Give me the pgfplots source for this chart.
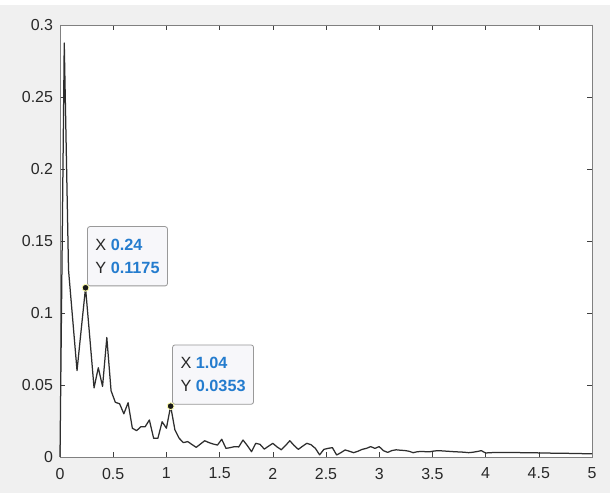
\documentclass[border=0pt]{standalone}
\usepackage{fontspec}
\setmainfont{Liberation Sans}
\usepackage{pgfplots}
\pgfplotsset{compat=1.18}
\usepackage{pgfplotstable}
\definecolor{figbg}{RGB}{240,240,240}
\definecolor{tipbg}{RGB}{247,247,250}
\definecolor{tipblue}{RGB}{36,124,206}
\definecolor{tipyellow}{RGB}{255,255,170}
\definecolor{txt}{RGB}{40,40,40}
\tikzset{tipbox/.style={anchor=south west, draw=black!40, fill=tipbg, rounded corners=2.5bp,
    line width=0.8bp, align=left, font=\fontsize{16.3}{22.7}\selectfont, text=txt,
    inner xsep=8bp, inner ysep=12.6bp, xshift=1.5bp, yshift=1.5bp}}

\pgfplotstableread{
x y
0.00 0.0
0.04 0.2875
0.08 0.13
0.12 0.095
0.16 0.060
0.20 0.089
0.24 0.1175
0.28 0.083
0.32 0.048
0.36 0.062
0.40 0.049
0.44 0.083
0.48 0.046
0.52 0.038
0.56 0.037
0.60 0.030
0.64 0.0377
0.68 0.020
0.72 0.0183
0.76 0.021
0.80 0.021
0.84 0.0257
0.88 0.013
0.92 0.013
0.96 0.0245
1.00 0.020
1.04 0.0353
1.08 0.0188
1.12 0.013
1.16 0.010
1.20 0.0107
1.24 0.0087
1.28 0.0067
1.32 0.009
1.36 0.0113
1.40 0.010
1.44 0.009
1.48 0.0083
1.52 0.0123
1.56 0.006
1.60 0.0065
1.64 0.0072
1.68 0.007
1.72 0.0118
1.76 0.008
1.80 0.0037
1.84 0.0095
1.88 0.0088
1.92 0.0055
1.96 0.0075
2.00 0.0095
2.04 0.007
2.08 0.005
2.12 0.008
2.16 0.0113
2.20 0.008
2.24 0.0053
2.28 0.0075
2.32 0.0095
2.36 0.0085
2.40 0.006
2.44 0.0015
2.48 0.0053
2.52 0.006
2.56 0.0065
2.60 0.0014
2.64 0.003
2.68 0.0049
2.72 0.004
2.76 0.003
2.80 0.004
2.84 0.0053
2.88 0.006
2.92 0.0072
2.96 0.006
3.00 0.0072
3.04 0.0044
3.08 0.0032
3.12 0.0045
3.16 0.005
3.20 0.0047
3.24 0.0045
3.28 0.004
3.32 0.003
3.36 0.0037
3.40 0.0038
3.44 0.0037
3.48 0.0037
3.52 0.0042
3.56 0.0044
3.60 0.0042
3.64 0.004
3.68 0.0038
3.72 0.0036
3.76 0.0035
3.80 0.0033
3.84 0.003
3.88 0.0033
3.92 0.0038
3.96 0.0044
4.00 0.0028
4.10 0.0032
4.20 0.0031
4.40 0.0030
4.60 0.0027
4.80 0.0025
5.00 0.0022
}\spectrum

\begin{document}
\begin{tikzpicture}
\fill[white] (-60bp,-36bp) rectangle (550bp,457bp);
\fill[figbg] (-60bp,-36bp) rectangle (550bp,452bp);
\useasboundingbox (-60bp,-36bp) rectangle (550bp,457bp);
\begin{axis}[
  at={(0,0)}, anchor=south west,
  width=532bp, height=432bp, scale only axis,
  xmin=0, xmax=5, ymin=0, ymax=0.3,
  axis background/.style={fill=white},
  tick align=inside,
  major tick length=5bp,
  every tick/.style={black!75, line width=0.6bp},
  axis line style={black!50, line width=0.9bp},
  xtick={0,0.5,1,1.5,2,2.5,3,3.5,4,4.5,5},
  xticklabels={0,0.5,1,1.5,2,2.5,3,3.5,4,4.5,5},
  ytick={0,0.05,0.1,0.15,0.2,0.25,0.3},
  yticklabels={0,0.05,0.1,0.15,0.2,0.25,0.3},
  scaled ticks=false,
  ticklabel style={font=\fontsize{16}{19}\selectfont, text=txt},
  xticklabel style={yshift=-7.5bp},
  yticklabel style={xshift=-3.5bp},
  clip=false,
]
\addplot[draw=black!82, line width=1.25bp, line join=round] table[x=x,y=y] {\spectrum};
\node[tipbox] at (axis cs:0.24,0.1175) {X \textcolor{tipblue}{\bfseries 0.24}\\Y \textcolor{tipblue}{\bfseries 0.1175}};
\node[tipbox] at (axis cs:1.04,0.0353) {X \textcolor{tipblue}{\bfseries 1.04}\\Y \textcolor{tipblue}{\bfseries 0.0353}};
\addplot[only marks, mark=*, mark size=3.4bp,
  mark options={fill=black!90, draw=tipyellow, line width=0.8bp}]
  coordinates {(0.24,0.1175) (1.04,0.0353)};
\end{axis}
\end{tikzpicture}
\end{document}
